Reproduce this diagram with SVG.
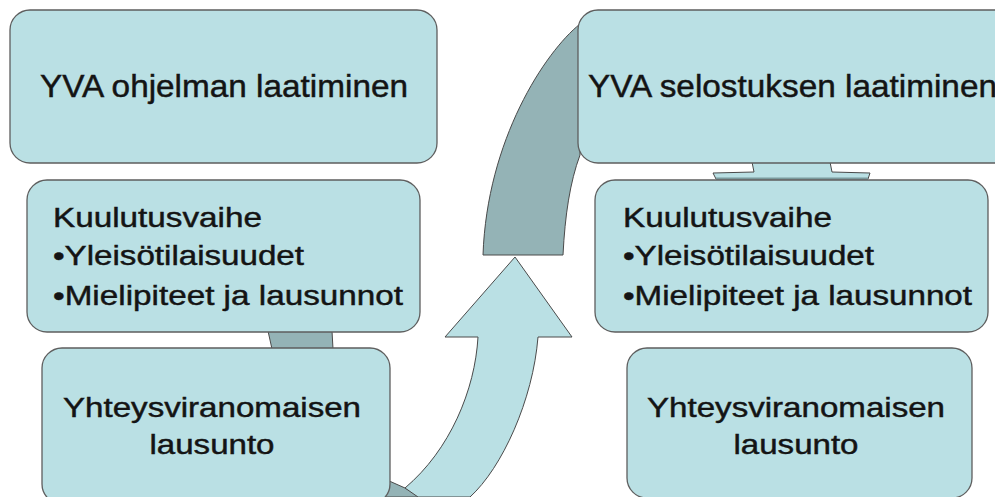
<svg xmlns="http://www.w3.org/2000/svg" width="995" height="497" viewBox="0 0 995 497">
<style>
.box{fill:#bae0e4;stroke:#5e5e5e;stroke-width:1.3}
.dark{fill:#94b3b6;stroke:#4a4a4a;stroke-width:1}
.light{fill:#bae0e4;stroke:#4a4a4a;stroke-width:1}
.t1{font-family:"Liberation Sans",Arial,sans-serif;font-size:31px;fill:#141414;stroke:#141414;stroke-width:0.45}
.t2{font-family:"Liberation Sans",Arial,sans-serif;font-size:27.5px;fill:#141414;stroke:#141414;stroke-width:0.45}
</style>
<rect width="995" height="497" fill="#ffffff"/>
<g id="connectors">
<path class="dark" d="M580,24 C545,52 487,140 483,255 L563,255 C565,215 570,182 580,155 Z"/>
<path class="dark" d="M378,476 L405,488 L422,497 L376,497 Z"/>
<path class="light" d="M405,488 C450,450 475,390 478,337 L445,337 L515,257 L572,337 L538,337 C533,400 502,468 470,497 L418,497 Z"/>
<path class="dark" d="M268,331 L332,331 L333,349 L272,349 Z"/>
<path class="light" d="M752,162 L754,172 L713,173 L716,179 L868,179 L870,173 L832,172 L830,162 Z"/>
<line x1="716" y1="178.5" x2="868" y2="178.5" stroke="#7a9a9d" stroke-width="2"/>
</g>
<g id="node-yva-ohjelma">
<rect class="box" x="10" y="10" width="427" height="153" rx="20"/>
<text class="t1" x="40" y="97" textLength="368" lengthAdjust="spacingAndGlyphs">YVA ohjelman laatiminen</text>
</g>
<g id="node-kuulutus-1">
<rect class="box" x="27" y="180" width="393" height="152" rx="20"/>
<text class="t2" x="53" y="227" textLength="209" lengthAdjust="spacingAndGlyphs">Kuulutusvaihe</text>
<text class="t2" x="53" y="265" textLength="251" lengthAdjust="spacingAndGlyphs">•Yleisötilaisuudet</text>
<text class="t2" x="53" y="305" textLength="350" lengthAdjust="spacingAndGlyphs">•Mielipiteet ja lausunnot</text>
</g>
<g id="node-lausunto-1">
<rect class="box" x="42" y="348" width="348" height="156" rx="20"/>
<text class="t2" x="212" y="417" text-anchor="middle" textLength="298" lengthAdjust="spacingAndGlyphs">Yhteysviranomaisen</text>
<text class="t2" x="212" y="454" text-anchor="middle" textLength="125" lengthAdjust="spacingAndGlyphs">lausunto</text>
</g>
<g id="node-yva-selostus">
<rect class="box" x="578" y="10" width="440" height="153" rx="20"/>
<text class="t1" x="588" y="97" textLength="409" lengthAdjust="spacingAndGlyphs">YVA selostuksen laatiminen</text>
</g>
<g id="node-kuulutus-2">
<rect class="box" x="595" y="180" width="393" height="152" rx="20"/>
<text class="t2" x="623" y="227" textLength="209" lengthAdjust="spacingAndGlyphs">Kuulutusvaihe</text>
<text class="t2" x="623" y="265" textLength="251" lengthAdjust="spacingAndGlyphs">•Yleisötilaisuudet</text>
<text class="t2" x="623" y="305" textLength="349" lengthAdjust="spacingAndGlyphs">•Mielipiteet ja lausunnot</text>
</g>
<g id="node-lausunto-2">
<rect class="box" x="627" y="348" width="345" height="150" rx="20"/>
<text class="t2" x="796" y="417" text-anchor="middle" textLength="298" lengthAdjust="spacingAndGlyphs">Yhteysviranomaisen</text>
<text class="t2" x="796" y="454" text-anchor="middle" textLength="125" lengthAdjust="spacingAndGlyphs">lausunto</text>
</g>
</svg>
